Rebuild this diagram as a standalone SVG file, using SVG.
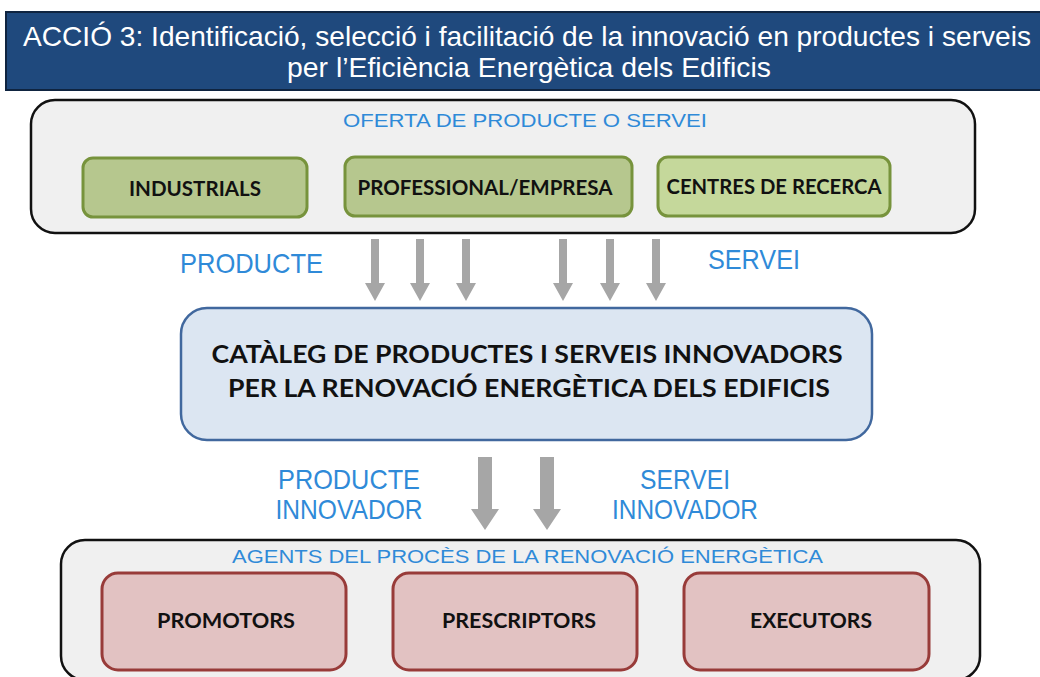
<svg xmlns="http://www.w3.org/2000/svg" width="1040" height="677" viewBox="0 0 1040 677">
<style>
.title{font-family:"Liberation Sans",Arial,sans-serif;font-size:28px;fill:#ffffff}
.blue{font-family:"Liberation Sans",Arial,sans-serif;fill:#2f8ad8}
.bold{font-family:Lato,"Open Sans",sans-serif;font-weight:bold;fill:#111111}
.container{fill:#f0f0f0;stroke:#111111;stroke-width:2.5}
.green{fill:#b6c78e;stroke:#77933c;stroke-width:3}
.green2{fill:#c5d89b;stroke:#77933c;stroke-width:3}
.red{fill:#e2c2c2;stroke:#983b39;stroke-width:3}
.arrow{fill:#a6a6a6;stroke:none}
</style>
<rect width="1040" height="677" fill="#ffffff"/>
<g id="title">
<rect x="6" y="12" width="1040" height="78" fill="#1f497d" stroke="#0f2440" stroke-width="2"/>
<text class="title" x="23" y="46" textLength="1008" lengthAdjust="spacingAndGlyphs">ACCIÓ 3: Identificació, selecció i facilitació de la innovació en productes i serveis</text>
<text class="title" x="287" y="77" textLength="484" lengthAdjust="spacingAndGlyphs">per l’Eficiència Energètica dels Edificis</text>
</g>
<g id="oferta">
<rect class="container" x="31" y="100" width="944" height="133" rx="24"/>
<text class="blue" x="343" y="127" font-size="19" textLength="364" lengthAdjust="spacingAndGlyphs">OFERTA DE PRODUCTE  O SERVEI</text>
</g>
<g id="industrials">
<rect class="green" x="83" y="158" width="224" height="59" rx="10"/>
<text class="bold" x="195" y="196" font-size="20" text-anchor="middle" textLength="132" lengthAdjust="spacingAndGlyphs">INDUSTRIALS</text>
</g>
<g id="professional">
<rect class="green" x="345" y="157" width="287" height="59" rx="10"/>
<text class="bold" x="485" y="195" font-size="20" text-anchor="middle" textLength="255" lengthAdjust="spacingAndGlyphs">PROFESSIONAL/EMPRESA</text>
</g>
<g id="centres">
<rect class="green2" x="658" y="157" width="232" height="59" rx="10"/>
<text class="bold" x="774" y="194" font-size="20" text-anchor="middle" textLength="215" lengthAdjust="spacingAndGlyphs">CENTRES DE RECERCA</text>
</g>
<g id="label-producte">
<text class="blue" x="180" y="273" font-size="28" textLength="143" lengthAdjust="spacingAndGlyphs">PRODUCTE</text>
</g>
<g id="label-servei">
<text class="blue" x="708" y="269" font-size="28" textLength="92" lengthAdjust="spacingAndGlyphs">SERVEI</text>
</g>
<g id="cataleg">
<rect x="181" y="308" width="691" height="132" rx="26" fill="#dce6f2" stroke="#41689e" stroke-width="2.5"/>
<text class="bold" x="527" y="363" font-size="25" text-anchor="middle" textLength="631" lengthAdjust="spacingAndGlyphs">CATÀLEG DE PRODUCTES I SERVEIS INNOVADORS</text>
<text class="bold" x="529" y="397" font-size="25" text-anchor="middle" textLength="602" lengthAdjust="spacingAndGlyphs">PER LA RENOVACIÓ ENERGÈTICA DELS EDIFICIS</text>
</g>
<g id="label-producte-innovador">
<text class="blue" x="349" y="489" font-size="28" text-anchor="middle" textLength="142" lengthAdjust="spacingAndGlyphs">PRODUCTE</text>
<text class="blue" x="349" y="519" font-size="28" text-anchor="middle" textLength="147" lengthAdjust="spacingAndGlyphs">INNOVADOR</text>
</g>
<g id="label-servei-innovador">
<text class="blue" x="685" y="489" font-size="28" text-anchor="middle" textLength="90" lengthAdjust="spacingAndGlyphs">SERVEI</text>
<text class="blue" x="685" y="519" font-size="28" text-anchor="middle" textLength="146" lengthAdjust="spacingAndGlyphs">INNOVADOR</text>
</g>
<g id="agents">
<rect class="container" x="61" y="540" width="919" height="140" rx="24"/>
<text class="blue" x="232" y="563" font-size="19" textLength="591" lengthAdjust="spacingAndGlyphs">AGENTS DEL PROCÈS DE LA RENOVACIÓ ENERGÈTICA</text>
</g>
<g id="promotors">
<rect class="red" x="102" y="573" width="244" height="97" rx="16"/>
<text class="bold" x="226" y="628" font-size="20" text-anchor="middle" textLength="138" lengthAdjust="spacingAndGlyphs">PROMOTORS</text>
</g>
<g id="prescriptors">
<rect class="red" x="393" y="573" width="244" height="97" rx="16"/>
<text class="bold" x="519" y="628" font-size="20" text-anchor="middle" textLength="154" lengthAdjust="spacingAndGlyphs">PRESCRIPTORS</text>
</g>
<g id="executors">
<rect class="red" x="684" y="573" width="245" height="97" rx="16"/>
<text class="bold" x="811" y="628" font-size="20" text-anchor="middle" textLength="122" lengthAdjust="spacingAndGlyphs">EXECUTORS</text>
</g>
<g id="connectors">
<defs>
<path id="a1" d="M-4,0 H4 V44 H10 L0,62 L-10,44 H-4 Z"/>
<path id="a2" d="M-7,0 H7 V52 H14 L0,73 L-14,52 H-7 Z"/>
</defs>
<use href="#a1" class="arrow" x="375" y="239"/>
<use href="#a1" class="arrow" x="420" y="239"/>
<use href="#a1" class="arrow" x="466" y="239"/>
<use href="#a1" class="arrow" x="563" y="239"/>
<use href="#a1" class="arrow" x="610" y="239"/>
<use href="#a1" class="arrow" x="656" y="239"/>
<use href="#a2" class="arrow" x="485" y="457"/>
<use href="#a2" class="arrow" x="547" y="457"/>
</g>
</svg>
